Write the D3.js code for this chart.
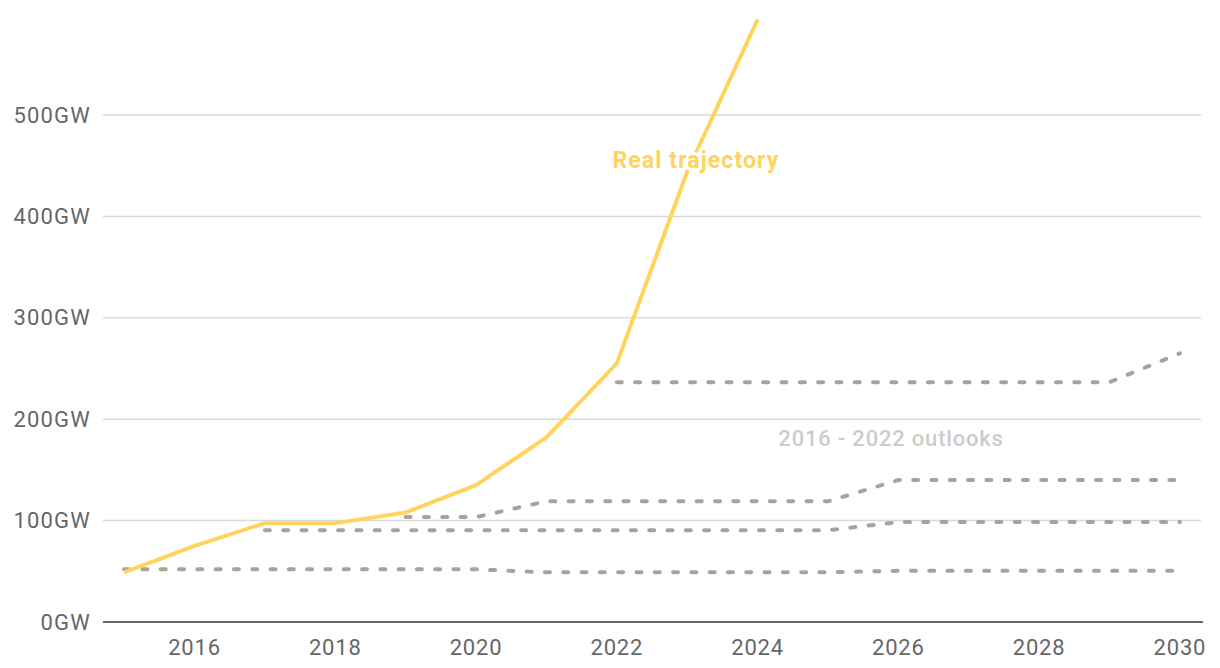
<!DOCTYPE html>
<html>
<head>
<meta charset="utf-8">
<script src="https://cdn.jsdelivr.net/npm/d3@7"></script>
<style>
html,body{margin:0;padding:0;background:#fff;}
svg{display:block;}
text{font-family:Roboto,"Noto Sans",sans-serif;}
</style>
</head>
<body>
<svg id="chart" width="1220" height="668"></svg>
<script>
// ---- data ----
const realYears = [2015,2016,2017,2018,2019,2020,2021,2022,2023,2024];
const realValues = [49,75,97.5,97.5,108,135,182,255,444,594];

const outlook2016Years = [2015,2016,2017,2018,2019,2020,2021,2022,2023,2024,2025,2026,2027,2028,2029,2030];
const outlook2016Values = [52,52,52,52,52,52,49,49,49,49,49,50.5,50.5,50.5,50.5,50.5];

const outlook2018Years = [2017,2018,2019,2020,2021,2022,2023,2024,2025,2026,2027,2028,2029,2030];
const outlook2018Values = [90.5,90.5,90.5,90.5,90.5,90.5,90.5,90.5,90.5,98.5,98.5,98.5,98.5,98.5];

const outlook2020Years = [2019,2020,2021,2022,2023,2024,2025,2026,2027,2028,2029,2030];
const outlook2020Values = [103.5,103.5,119,119,119,119,119,140,140,140,140,140];

const outlook2022Years = [2022,2023,2024,2025,2026,2027,2028,2029,2030];
const outlook2022Values = [236.5,236.5,236.5,236.5,236.5,236.5,236.5,236.5,265];

const xTicks = [2016,2018,2020,2022,2024,2026,2028,2030];
const yTicks = [0,100,200,300,400,500];

// ---- layout ----
const svg = d3.select("#chart");
const x = d3.scaleLinear().domain([2014.7, 2030.3]).range([103, 1201]);
const y = d3.scaleLinear().domain([0, 500]).range([622, 115]);

// grid
svg.append("g").selectAll("line").data(yTicks.filter(d => d > 0)).join("line")
  .attr("x1", 103).attr("x2", 1201)
  .attr("y1", d => y(d)).attr("y2", d => y(d))
  .attr("stroke", "#d9d9d9").attr("stroke-width", 1.5);

// y labels
svg.append("g").selectAll("text").data(yTicks).join("text")
  .attr("x", 91).attr("y", d => y(d))
  .attr("text-anchor", "end").attr("dominant-baseline", "central")
  .attr("font-size", 22).attr("fill", "#666").attr("letter-spacing", 1.2)
  .text(d => d + "GW");

// x labels
svg.append("g").selectAll("text").data(xTicks).join("text")
  .attr("x", d => x(d)).attr("y", 655)
  .attr("text-anchor", "middle")
  .attr("font-size", 22).attr("fill", "#666").attr("letter-spacing", 0.8)
  .text(d => d);

// baseline
svg.append("line").attr("x1", 103).attr("x2", 1203)
  .attr("y1", y(0)).attr("y2", y(0))
  .attr("stroke", "#666").attr("stroke-width", 2);

const line = d3.line().x(d => x(d[0])).y(d => y(d[1]));
const zip = (a, b) => a.map((v, i) => [v, b[i]]);

// outlooks
const outlooks = [
  zip(outlook2016Years, outlook2016Values),
  zip(outlook2018Years, outlook2018Values),
  zip(outlook2020Years, outlook2020Values),
  zip(outlook2022Years, outlook2022Values)
];
svg.append("g").selectAll("path").data(outlooks).join("path")
  .attr("d", line).attr("fill", "none")
  .attr("stroke", "#a6a49a").attr("stroke-width", 4)
  .attr("stroke-linecap", "round").attr("stroke-dasharray", "5 13.3");

// real trajectory
svg.append("path").datum(zip(realYears, realValues))
  .attr("d", line).attr("fill", "none")
  .attr("stroke", "#ffd35c").attr("stroke-width", 4)
  .attr("stroke-linejoin", "round");

// annotations
svg.append("text").attr("x", 696).attr("y", 168)
  .attr("text-anchor", "middle").attr("font-size", 23).attr("font-weight", 700)
  .attr("fill", "#ffd35c").attr("stroke", "#fff").attr("stroke-width", 6)
  .attr("paint-order", "stroke").attr("stroke-linejoin", "round")
  .attr("letter-spacing", 1.1)
  .text("Real trajectory");

svg.append("text").attr("x", 891).attr("y", 446)
  .attr("text-anchor", "middle").attr("font-size", 22).attr("font-weight", 500)
  .attr("fill", "#cccccc").attr("letter-spacing", 0.8)
  .text("2016 - 2022 outlooks");
</script>
</body>
</html>
